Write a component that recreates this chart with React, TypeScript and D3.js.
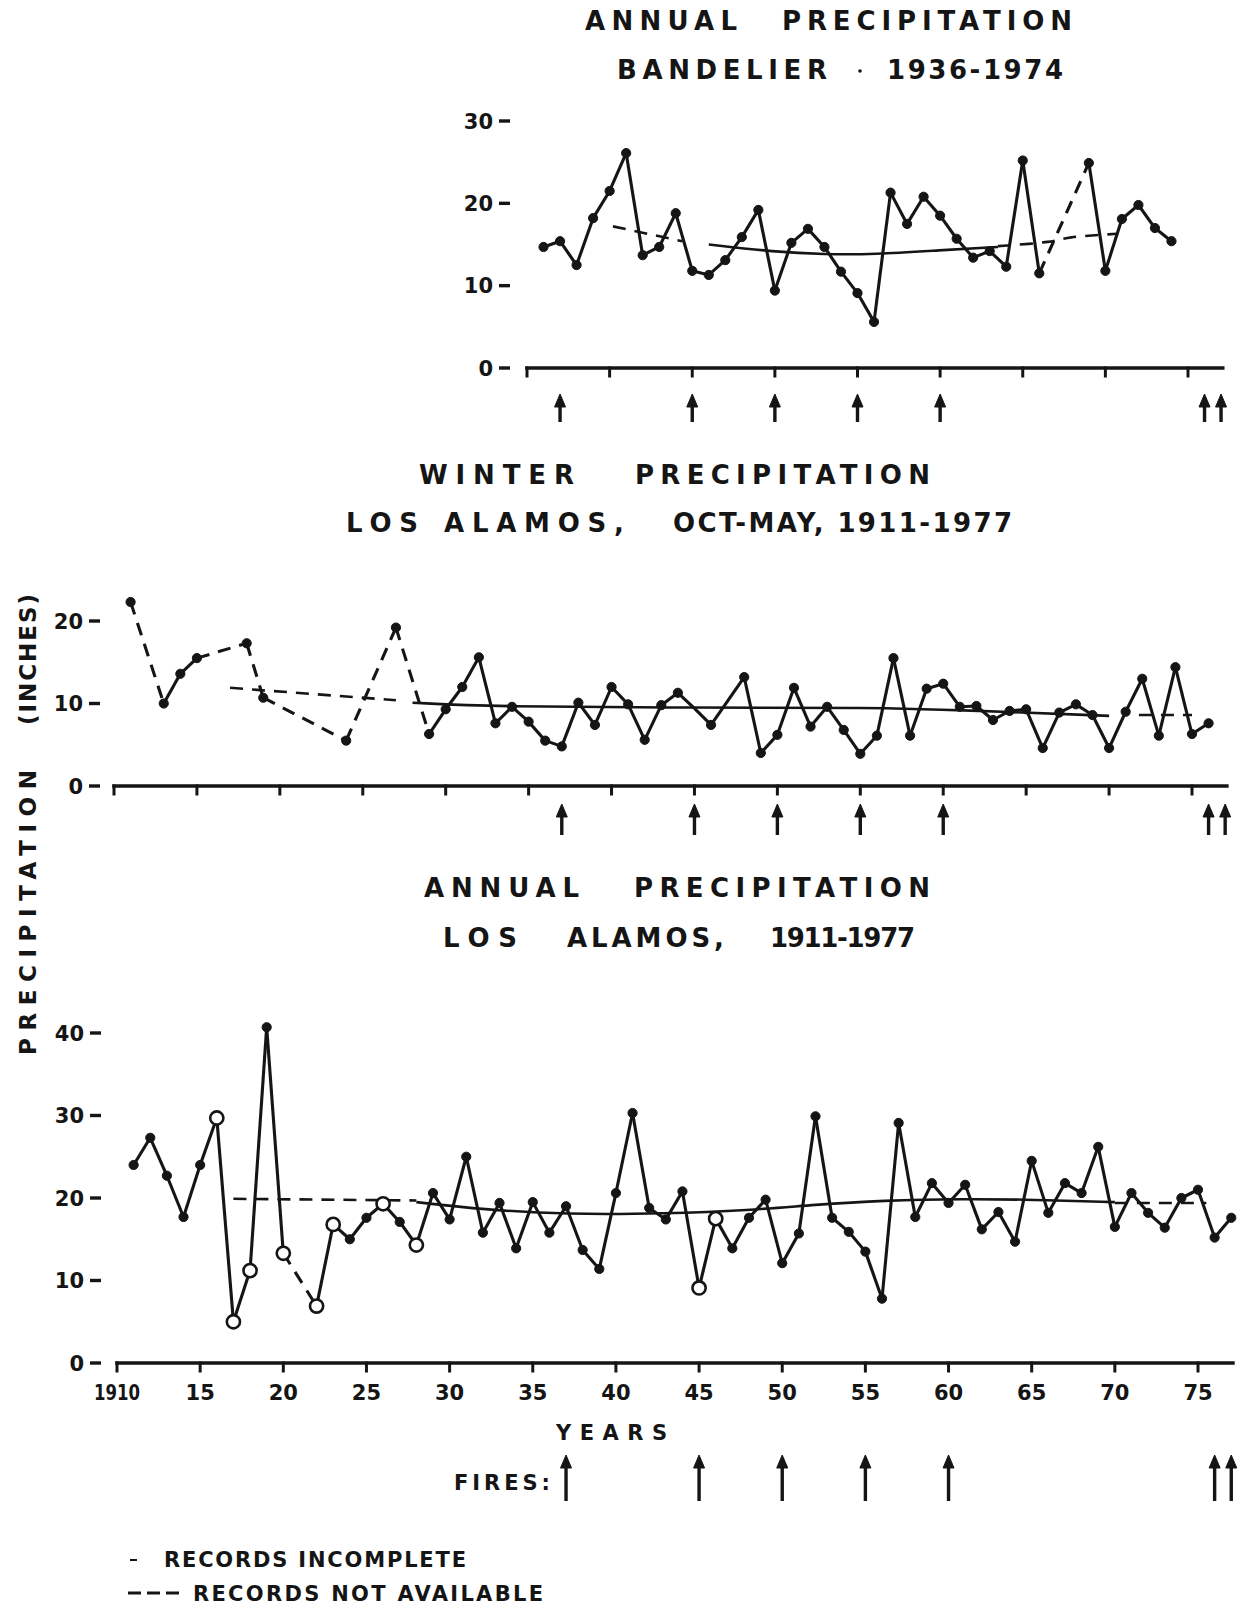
import React from 'react';
import * as d3 from 'd3';

const W = 1248;
const H = 1606;
const INK = '#151515';
const FONT = '"DejaVu Sans", "Liberation Sans", sans-serif';

// Bandelier annual precipitation (inches), 1967-68 not recorded
const bandYears = [1936, 1937, 1938, 1939, 1940, 1941, 1942, 1943, 1944, 1945, 1946, 1947, 1948, 1949, 1950, 1951, 1952, 1953, 1954, 1955, 1956, 1957, 1958, 1959, 1960, 1961, 1962, 1963, 1964, 1965, 1966, 1969, 1970, 1971, 1972, 1973, 1974];
const bandValues = [14.7, 15.4, 12.5, 18.2, 21.5, 26.1, 13.7, 14.7, 18.8, 11.8, 11.3, 13.1, 15.9, 19.2, 9.4, 15.2, 16.9, 14.7, 11.7, 9.1, 5.6, 21.3, 17.5, 20.8, 18.5, 15.7, 13.4, 14.2, 12.3, 25.2, 11.5, 24.9, 11.8, 18.1, 19.8, 17.0, 15.4];
const bandDashed = [[1966, 1969]];
const bandTrendYears = [[1940.2, 1944.4], [1946, 1950, 1953, 1956, 1960, 1963.5], [1963.5, 1967, 1967.5, 1970.7]];
const bandTrendValues = [[17.2, 15.4], [15.0, 14.1, 13.8, 13.8, 14.3, 14.7], [14.8, 15.3, 15.9, 16.3]];
const bandTrendDashed = [true, false, true];

// Los Alamos winter precipitation, Oct-May
const winterYears = [1911, 1913, 1914, 1915, 1918, 1919, 1924, 1927, 1929, 1930, 1931, 1932, 1933, 1934, 1935, 1936, 1937, 1938, 1939, 1940, 1941, 1942, 1943, 1944, 1945, 1946, 1948, 1949, 1950, 1951, 1952, 1953, 1954, 1955, 1956, 1957, 1958, 1959, 1960, 1961, 1962, 1963, 1964, 1965, 1966, 1967, 1968, 1969, 1970, 1971, 1972, 1973, 1974, 1975, 1976];
const winterValues = [22.3, 10.0, 13.6, 15.5, 17.3, 10.7, 5.5, 19.2, 6.3, 9.3, 12.0, 15.6, 7.6, 9.6, 7.8, 5.5, 4.8, 10.1, 7.4, 12.0, 9.9, 5.6, 9.8, 11.3, 9.4, 7.4, 13.2, 4.0, 6.2, 11.9, 7.2, 9.6, 6.8, 3.9, 6.1, 15.5, 6.1, 11.8, 12.4, 9.6, 9.7, 8.0, 9.1, 9.3, 4.6, 8.9, 9.9, 8.6, 4.6, 9.0, 13.0, 6.1, 14.4, 6.3, 7.6];
const winterDashed = [[1911, 1913], [1915, 1918], [1918, 1919], [1919, 1924], [1924, 1927], [1927, 1929]];
const winterIncomplete = [1945];
const winterTrendYears = [[1917, 1927], [1928, 1933, 1945, 1956, 1961, 1970], [1971.8, 1975]];
const winterTrendValues = [[11.9, 10.4], [10.1, 9.6, 9.5, 9.5, 9.2, 8.5], [8.6, 8.6]];
const winterTrendDashed = [true, false, true];

// Los Alamos annual precipitation
const annualYears = [1911, 1912, 1913, 1914, 1915, 1916, 1917, 1918, 1919, 1920, 1922, 1923, 1924, 1925, 1926, 1927, 1928, 1929, 1930, 1931, 1932, 1933, 1934, 1935, 1936, 1937, 1938, 1939, 1940, 1941, 1942, 1943, 1944, 1945, 1946, 1947, 1948, 1949, 1950, 1951, 1952, 1953, 1954, 1955, 1956, 1957, 1958, 1959, 1960, 1961, 1962, 1963, 1964, 1965, 1966, 1967, 1968, 1969, 1970, 1971, 1972, 1973, 1974, 1975, 1976, 1977];
const annualValues = [24.0, 27.3, 22.7, 17.7, 24.0, 29.7, 5.0, 11.2, 40.7, 13.3, 6.9, 16.8, 15.0, 17.6, 19.3, 17.1, 14.3, 20.6, 17.4, 25.0, 15.8, 19.4, 13.9, 19.5, 15.8, 19.0, 13.7, 11.4, 20.6, 30.3, 18.8, 17.4, 20.8, 9.1, 17.5, 13.9, 17.6, 19.8, 12.1, 15.7, 29.9, 17.6, 15.9, 13.5, 7.8, 29.1, 17.7, 21.8, 19.4, 21.6, 16.2, 18.3, 14.7, 24.5, 18.2, 21.8, 20.6, 26.2, 16.5, 20.6, 18.2, 16.4, 20.0, 21.0, 15.2, 17.6];
const annualDashed = [[1920, 1922]];
const annualOpen = [1916, 1917, 1918, 1920, 1922, 1923, 1926, 1928, 1945, 1946];
const annualTrendYears = [[1917, 1928], [1928, 1932, 1937, 1943, 1948, 1952, 1956, 1961, 1965, 1970], [1970, 1975.5]];
const annualTrendValues = [[19.9, 19.7], [19.5, 18.6, 18.0, 18.1, 18.5, 19.2, 19.7, 19.9, 19.8, 19.5], [19.4, 19.4]];
const annualTrendDashed = [true, false, true];

const fireYears = [1937, 1945, 1950, 1955, 1960, 1976, 1977];
const topTicks = [0, 10, 20, 30];
const midTicks = [0, 10, 20];
const botTicks = [0, 10, 20, 30, 40];
const yearTicks = [1910, 1915, 1920, 1925, 1930, 1935, 1940, 1945, 1950, 1955, 1960, 1965, 1970, 1975];
const yearTickLabels = ['1910', '15', '20', '25', '30', '35', '40', '45', '50', '55', '60', '65', '70', '75'];

const DASH = '13,9';

type Scale = d3.ScaleLinear<number, number>;

function Series({ x, y, years, values, dashed = [], open = [], incomplete = [] }: {
  x: Scale; y: Scale; years: number[]; values: number[];
  dashed?: number[][]; open?: number[]; incomplete?: number[];
}) {
  const line = d3.line<number>().x(i => x(years[i])).y(i => y(values[i]));
  const isDashed = (a: number, b: number) => dashed.some(d => d[0] === a && d[1] === b);
  const links = d3.range(years.length - 1).map(i => ({ i, dash: isDashed(years[i], years[i + 1]) }));
  return (
    <g>
      {links.map(l => (
        <path key={l.i} d={line([l.i, l.i + 1]) || ''} fill="none" stroke={INK}
          strokeWidth={3.1} strokeDasharray={l.dash ? DASH : undefined} strokeLinejoin="round" strokeLinecap="butt" />
      ))}
      {years.map((yr, i) => {
        if (incomplete.includes(yr)) return null;
        const o = open.includes(yr);
        return (
          <circle key={yr} cx={x(yr)} cy={y(values[i])} r={o ? 6.6 : 4.6}
            fill={o ? '#fff' : INK} stroke={INK} strokeWidth={o ? 2.6 : 1} />
        );
      })}
    </g>
  );
}

function Trend({ x, y, years, values, dashed }: {
  x: Scale; y: Scale; years: number[][]; values: number[][]; dashed: boolean[];
}) {
  return (
    <g>
      {years.map((ys, k) => {
        const line = d3.line<number>().x(i => x(ys[i])).y(i => y(values[k][i])).curve(d3.curveBasis);
        return (
          <path key={k} d={line(d3.range(ys.length)) || ''} fill="none" stroke={INK}
            strokeWidth={2.6} strokeDasharray={dashed[k] ? DASH : undefined} />
        );
      })}
    </g>
  );
}

function XAxis({ x, y0, from, to, ticks }: { x: Scale; y0: number; from: number; to: number; ticks: number[] }) {
  return (
    <g stroke={INK} strokeLinecap="square">
      <line x1={x(from)} x2={x(to)} y1={y0} y2={y0} strokeWidth={3.6} />
      {ticks.map(t => (
        <line key={t} x1={x(t)} x2={x(t)} y1={y0} y2={y0 + 8} strokeWidth={3} />
      ))}
    </g>
  );
}

function YTicks({ y, ticks, right }: { y: Scale; ticks: number[]; right: number }) {
  return (
    <g>
      {ticks.map(t => (
        <g key={t}>
          <line x1={right - 13} x2={right - 2} y1={y(t)} y2={y(t)} stroke={INK} strokeWidth={3.4} />
          <text x={right - 19} y={y(t) + 7.5} textAnchor="end" fontFamily={FONT} fontWeight="bold"
            fontSize={21} fill={INK}>{t}</text>
        </g>
      ))}
    </g>
  );
}

function Fires({ x, top, bottom }: { x: Scale; top: number; bottom: number }) {
  return (
    <g fill={INK} stroke={INK}>
      {fireYears.map(f => {
        const cx = x(f);
        return (
          <g key={f}>
            <line x1={cx} x2={cx} y1={top + 8} y2={bottom} strokeWidth={3.4} />
            <path d={`M${cx},${top} L${cx - 5.5},${top + 13} L${cx + 5.5},${top + 13} Z`} strokeWidth={1} />
          </g>
        );
      })}
    </g>
  );
}

function Word({ x, y, w, text, size = 26 }: {
  x: number; y: number; w: number; text: string; size?: number;
}) {
  return (
    <text x={x} y={y} textLength={w} lengthAdjust="spacing" fontFamily={FONT}
      fontWeight="bold" fontSize={size} fill={INK}>{text}</text>
  );
}

export default function App() {
  const xTop = d3.scaleLinear().domain([1935, 1975]).range([527, 1188]);
  const yTop = d3.scaleLinear().domain([0, 30]).range([368, 121]);
  const xMid = d3.scaleLinear().domain([1910, 1975]).range([114, 1192]);
  const yMid = d3.scaleLinear().domain([0, 20]).range([786, 621]);
  const xBot = d3.scaleLinear().domain([1910, 1975]).range([117, 1198]);
  const yBot = d3.scaleLinear().domain([0, 40]).range([1363, 1033]);

  return (
    <svg width={W} height={H} viewBox={`0 0 ${W} ${H}`}
      style={{ position: 'absolute', left: 0, top: 0, background: '#fff', display: 'block' }}>
      <rect width={W} height={H} fill="#fff" />

      {/* Titles */}
      <Word x={585} y={30} w={152} text="ANNUAL" />
      <Word x={782} y={30} w={290} text="PRECIPITATION" />
      <Word x={617} y={79} w={210} text="BANDELIER" />
      <circle cx={860} cy={71} r={1.8} fill={INK} />
      <Word x={887} y={79} w={176} text="1936-1974" />

      <Word x={419} y={484} w={155} text="WINTER" />
      <Word x={635} y={484} w={295} text="PRECIPITATION" />
      <Word x={346} y={532} w={72} text="LOS" />
      <Word x={444} y={532} w={180} text="ALAMOS," />
      <Word x={673} y={532} w={339} text="OCT-MAY, 1911-1977" />

      <Word x={424} y={897} w={155} text="ANNUAL" />
      <Word x={634} y={897} w={296} text="PRECIPITATION" />
      <Word x={443} y={947} w={74} text="LOS" />
      <Word x={567} y={947} w={157} text="ALAMOS," />
      <Word x={770} y={947} w={145} text="1911-1977" />

      {/* Y title */}
      <g transform="translate(36,1055) rotate(-90)">
        <Word x={0} y={0} w={285} text="PRECIPITATION" size={23} />
        <Word x={330} y={0} w={131} text="(INCHES)" size={23} />
      </g>

      {/* Bandelier annual */}
      <YTicks y={yTop} ticks={topTicks} right={512} />
      <XAxis x={xTop} y0={yTop(0)} from={1935} to={1977.1} ticks={[1935, 1940, 1945, 1950, 1955, 1960, 1965, 1970, 1975]} />
      <Trend x={xTop} y={yTop} years={bandTrendYears} values={bandTrendValues} dashed={bandTrendDashed} />
      <Series x={xTop} y={yTop} years={bandYears} values={bandValues} dashed={bandDashed} />
      <Fires x={xTop} top={394} bottom={422} />

      {/* Los Alamos winter */}
      <YTicks y={yMid} ticks={midTicks} right={102} />
      <XAxis x={xMid} y0={yMid(0)} from={1910} to={1977.1} ticks={yearTicks} />
      <Trend x={xMid} y={yMid} years={winterTrendYears} values={winterTrendValues} dashed={winterTrendDashed} />
      <Series x={xMid} y={yMid} years={winterYears} values={winterValues} dashed={winterDashed} incomplete={winterIncomplete} />
      <Fires x={xMid} top={804} bottom={835} />

      {/* Los Alamos annual */}
      <YTicks y={yBot} ticks={botTicks} right={103} />
      <XAxis x={xBot} y0={yBot(0)} from={1910} to={1977.1} ticks={yearTicks} />
      {yearTicks.map((t, i) => (
        <text key={t} x={xBot(t)} y={1400} textAnchor="middle" fontFamily={FONT} fontWeight="bold"
          fontSize={21} fill={INK} textLength={i === 0 ? 46 : undefined}
          lengthAdjust="spacingAndGlyphs">{yearTickLabels[i]}</text>
      ))}
      <Trend x={xBot} y={yBot} years={annualTrendYears} values={annualTrendValues} dashed={annualTrendDashed} />
      <Series x={xBot} y={yBot} years={annualYears} values={annualValues} dashed={annualDashed} open={annualOpen} />

      <Word x={556} y={1440} w={111} text="YEARS" size={21} />
      <Word x={454} y={1490} w={96} text="FIRES:" size={21} />
      <Fires x={xBot} top={1455} bottom={1501} />

      {/* Legend */}
      <line x1={130} x2={137} y1={1560} y2={1560} stroke={INK} strokeWidth={2} />
      <Word x={164} y={1567} w={302} text="RECORDS INCOMPLETE" size={21} />
      <line x1={128} x2={184} y1={1593} y2={1593} stroke={INK} strokeWidth={3} strokeDasharray="13,6" />
      <Word x={193} y={1601} w={350} text="RECORDS NOT AVAILABLE" size={21} />
    </svg>
  );
}
